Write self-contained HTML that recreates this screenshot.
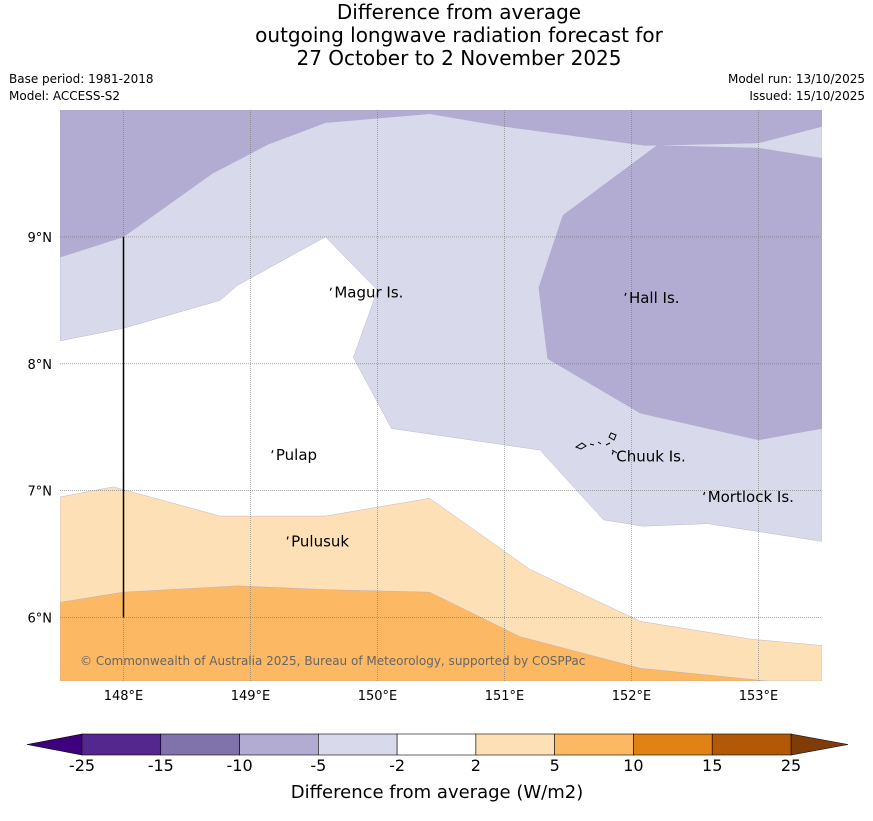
<!DOCTYPE html>
<html><head><meta charset="utf-8">
<style>
body{margin:0;background:#fff;width:873px;height:816px;overflow:hidden;font-family:"Liberation Sans","DejaVu Sans",sans-serif;}
svg text{font-family:"DejaVu Sans","Liberation Sans",sans-serif;}
</style></head>
<body>
<svg id="chart" width="873" height="816" viewBox="0 0 873 816" xmlns="http://www.w3.org/2000/svg">
<g font-size="20" text-anchor="middle" fill="#000">
<text x="459" y="19">Difference from average</text>
<text x="459" y="42">outgoing longwave radiation forecast for</text>
<text x="459" y="65">27 October to 2 November 2025</text>
</g>
<g font-size="12" fill="#000">
<text x="9" y="83">Base period: 1981-2018</text>
<text x="9" y="100">Model: ACCESS-S2</text>
<text x="865" y="83" text-anchor="end">Model run: 13/10/2025</text>
<text x="865" y="100" text-anchor="end">Issued: 15/10/2025</text>
</g>
<g id="map"></g>
<g id="cbar"></g>
</svg>
<script>
// Map extent
const lonMin=147.5, lonMax=153.5, latMin=5.5, latMax=10.0;
const X0=60,X1=822,Y0=110,Y1=681;
const xs=lon=>X0+(lon-lonMin)/(lonMax-lonMin)*(X1-X0);
const ys=lat=>Y1-(lat-latMin)/(latMax-latMin)*(Y1-Y0);
const lonTicks=[148,149,150,151,152,153];
const latTicks=[6,7,8,9];
// contour polygons as [lon,lat] pairs
const lightPurple=[[147.5,10],[147.5,8.18],[148,8.28],[148.76,8.5],[148.9,8.62],[149.59,9],[150,8.58],[149.81,8.05],[150.11,7.49],[151.28,7.32],[151.78,6.77],[152.09,6.72],[152.6,6.74],[153.5,6.6],[153.5,10]];
const midPurpleTop=[[147.5,10],[147.5,8.84],[148,9.0],[148.7,9.5],[149.14,9.73],[149.59,9.9],[150.41,9.97],[151,9.87],[152.11,9.72],[153.0,9.74],[153.5,9.87],[153.5,10]];
const midPurpleBlob=[[152.2,9.72],[153.0,9.7],[153.5,9.62],[153.5,7.49],[153.0,7.4],[152.07,7.61],[151.34,8.04],[151.27,8.6],[151.46,9.17]];
const lightOrange=[[147.5,6.95],[147.92,7.03],[148.76,6.8],[149.59,6.8],[150.41,6.94],[151.2,6.38],[152.07,5.97],[152.94,5.83],[153.5,5.78],[153.5,5.5],[147.5,5.5]];
const midOrange=[[147.5,6.12],[148,6.2],[148.9,6.25],[149.59,6.22],[150.41,6.2],[151.12,5.85],[152.07,5.6],[153.07,5.5],[147.5,5.5]];
const islands=[["Magur Is.",149.66,8.56],["Hall Is.",151.98,8.52],["Pulap",149.2,7.28],["Chuuk Is.",151.88,7.27],["Mortlock Is.",152.6,6.95],["Pulusuk",149.32,6.6]];
// colorbar
const cbLevels=["-25","-15","-10","-5","-2","2","5","10","15","25"];
const cbColors=["#54278f","#8073ac","#b2abd2","#d8daeb","#ffffff","#fee0b6","#fdb863","#e08214","#b35806"];
const NS="http://www.w3.org/2000/svg";
function mk(tag,attrs,parent){const e=document.createElementNS(NS,tag);for(const k in attrs)e.setAttribute(k,attrs[k]);parent.appendChild(e);return e;}
const map=document.getElementById('map');
const cp=mk('clipPath',{id:'mc'},map);mk('rect',{x:X0,y:Y0,width:X1-X0,height:Y1-Y0},cp);
const g=mk('g',{'clip-path':'url(#mc)'},map);
function poly(pts,fill,name){const p=mk('polygon',{points:pts.map(d=>xs(d[0])+','+ys(d[1])).join(' '),fill:fill,stroke:'#b0a8c8','stroke-width':0.4},g);

}
poly(lightPurple,'#d8daeb','contour-minus5-to-minus2');
poly(midPurpleTop,'#b2abd2','contour-minus10-to-minus5-north');
poly(midPurpleBlob,'#b2abd2','contour-minus10-to-minus5-east');
poly(lightOrange,'#fee0b6','contour-2-to-5');
poly(midOrange,'#fdb863','contour-5-to-10');
lonTicks.forEach(l=>{const ln=mk('line',{x1:xs(l),x2:xs(l),y1:Y0,y2:Y1,stroke:'#777','stroke-width':0.6,'stroke-dasharray':'1,1'},g);


const t=mk('text',{x:xs(l),y:700,'font-size':13,'text-anchor':'middle'},map);t.textContent=l+'°E';

});
latTicks.forEach(l=>{const ln=mk('line',{x1:X0,x2:X1,y1:ys(l),y2:ys(l),stroke:'#777','stroke-width':0.6,'stroke-dasharray':'1,1'},g);


const t=mk('text',{x:52,y:ys(l)+5,'font-size':13,'text-anchor':'end'},map);t.textContent=l+'°N';

});
const vl=mk('line',{x1:xs(148),x2:xs(148),y1:ys(9),y2:ys(6),stroke:'#000','stroke-width':1.5},map);


islands.forEach(d=>{const x=xs(d[1]),y=ys(d[2]);
const m=mk('path',{d:`M${x-3} ${y-5} l-1 3`,stroke:'#000','stroke-width':1.2,fill:'none'},map);


const t=mk('text',{x:x,y:y+5,'font-size':15},map);t.textContent=d[0];

});
const ch=mk('path',{d:'M576 447 l6 -4 l4 3 l-5 3z M590 444 l4 1 M598 442 l3 2 M606 445 l4 -2 M611 433 l5 2 l-2 5 l-5 -3z M612 450 l5 3',stroke:'#000','stroke-width':1,fill:'none'},map);


const cr=mk('text',{x:80,y:665,'font-size':12,fill:'#666'},map);cr.textContent='© Commonwealth of Australia 2025, Bureau of Meteorology, supported by COSPPac';


// colorbar
const cb=document.getElementById('cbar');
const cbX0=82,cbX1=791,cbY=734,cbH=21,sw=(cbX1-cbX0)/cbColors.length;
const lt=mk('polygon',{points:`${cbX0},${cbY} 27,${cbY+cbH/2} ${cbX0},${cbY+cbH}`,fill:'#3f007d',stroke:'#000','stroke-width':0.6},cb);


const rt=mk('polygon',{points:`${cbX1},${cbY} 848,${cbY+cbH/2} ${cbX1},${cbY+cbH}`,fill:'#7f3b08',stroke:'#000','stroke-width':0.6},cb);


cbColors.forEach((c,i)=>{const r=mk('rect',{x:cbX0+i*sw,y:cbY,width:sw,height:cbH,fill:c,stroke:'#000','stroke-width':0.6},cb);

});
cbLevels.forEach((l,i)=>{const t=mk('text',{x:cbX0+i*sw,y:771,'font-size':16,'text-anchor':'middle'},cb);t.textContent=l;

});
const ct=mk('text',{x:437,y:798,'font-size':18,'text-anchor':'middle'},cb);ct.textContent='Difference from average (W/m2)';


</script>
</body></html>
